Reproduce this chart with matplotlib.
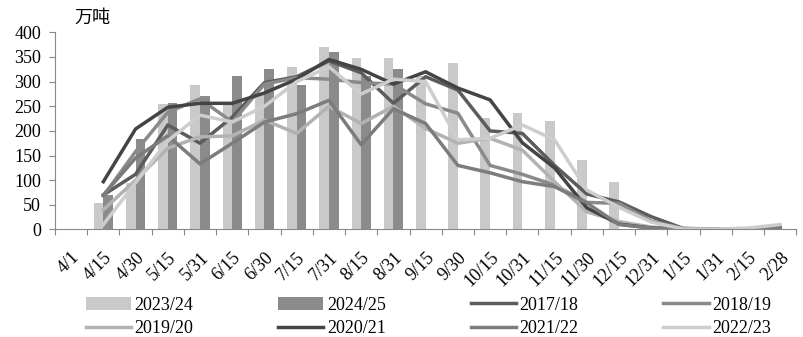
import matplotlib
matplotlib.use("Agg")
import matplotlib.pyplot as plt
import numpy as np

plt.rcParams['font.family'] = ['Liberation Serif', 'Noto Sans CJK SC']

nan = np.nan

# 日期
dates = ["4/1", "4/15", "4/30", "5/15", "5/31", "6/15", "6/30", "7/15", "7/31",
         "8/15", "8/31", "9/15", "9/30", "10/15", "10/31", "11/15", "11/30",
         "12/15", "12/31", "1/15", "1/31", "2/15", "2/28"]

# 柱状 (万吨)
bar_2023 = [nan, 54, 95, 255, 293, 253, 272, 329, 370, 348, 348, 312, 338,
            226, 237, 220, 141, 96, nan, nan, nan, nan, nan]
bar_2024 = [nan, 71, 184, 257, 270, 312, 326, 293, 361, 312, 326, nan, nan,
            nan, nan, nan, nan, nan, nan, nan, nan, nan, nan]

# 折线
s1718 = [nan, 70, 112, 212, 175, 228, 298, 310, 342, 318, 256, 310, 283,
         200, 195, 130, 72, 56, 26, 2, 1, 1, 2]
s1819 = [nan, 68, 158, 238, 265, 218, 295, 308, 305, 298, 295, 255, 236,
         130, 112, 90, 55, 53, 17, 2, 1, 1, 2]
s1920 = [nan, 40, 100, 165, 188, 190, 222, 195, 250, 215, 250, 205, 175,
         185, 161, 97, 36, 16, 5, 1, 1, 1, 3]
s2021 = [nan, 97, 204, 248, 256, 256, 277, 305, 345, 325, 295, 320, 287,
         263, 176, 125, 44, 11, 3, 1, 1, 1, 3]
s2122 = [nan, 70, 145, 190, 133, 175, 218, 235, 262, 172, 245, 215, 130,
         115, 97, 87, 54, 10, 3, 1, 1, 1, 2]
s2223 = [nan, 10, 95, 180, 232, 218, 250, 300, 330, 275, 305, 300, 182,
         185, 212, 182, 80, 45, 15, 1, 1, 3, 10]

lines = [("2017/18", s1718, "#5c5c5c"),
         ("2018/19", s1819, "#8a8a8a"),
         ("2019/20", s1920, "#b2b2b2"),
         ("2020/21", s2021, "#444444"),
         ("2021/22", s2122, "#7c7c7c"),
         ("2022/23", s2223, "#cdcdcd")]

fig = plt.figure(figsize=(8.04, 3.37), dpi=100)
ax = fig.add_axes([0.0684, 0.319, 0.922, 0.585])

x = np.arange(len(dates))
w = 0.3
h_a = ax.bar(x - w / 2, bar_2023, w, color="#c9c9c9", label="2023/24")
h_b = ax.bar(x + w / 2, bar_2024, w, color="#8b8b8b", label="2024/25")

hl = []
for name, vals, col in lines:
    l, = ax.plot(x, vals, color=col, lw=2.5, label=name)
    hl.append(l)

ax.set_xlim(-0.5, len(dates) - 0.5)
ax.set_ylim(0, 400)
ax.set_yticks(np.arange(0, 401, 50))
ax.tick_params(axis='y', labelsize=13, length=4, color="#888888", pad=6)

ax.set_xticks(np.arange(-0.5, len(dates), 1), minor=False)
ax.set_xticklabels([])
ax.set_xticks(x, minor=True)
ax.set_xticklabels(dates, minor=True, rotation=45, ha='right',
                   rotation_mode='anchor', fontsize=13)
ax.tick_params(axis='x', which='major', length=4, color="#888888")
ax.tick_params(axis='x', which='minor', length=0, pad=14)

for s in ["top", "right"]:
    ax.spines[s].set_visible(False)
ax.spines["left"].set_color("#888888")
ax.spines["bottom"].set_color("#888888")

fig.text(0.093, 0.948, "万吨", fontsize=13, family=['Noto Sans CJK SC'], va='center')

# 图例 (按行排列)
hs = [h_a, h_b] + hl
order = [0, 4, 1, 5, 2, 6, 3, 7]
labs = [h.get_label() for h in hs]
fig.legend([hs[i] for i in order], [labs[i] for i in order], ncol=4,
           loc='center', bbox_to_anchor=(0.533, 0.06), frameon=False,
           fontsize=13, handlelength=2.5, columnspacing=4.7, handletextpad=0.2,
           labelspacing=0.35)

fig.savefig("out.png", dpi=100)
